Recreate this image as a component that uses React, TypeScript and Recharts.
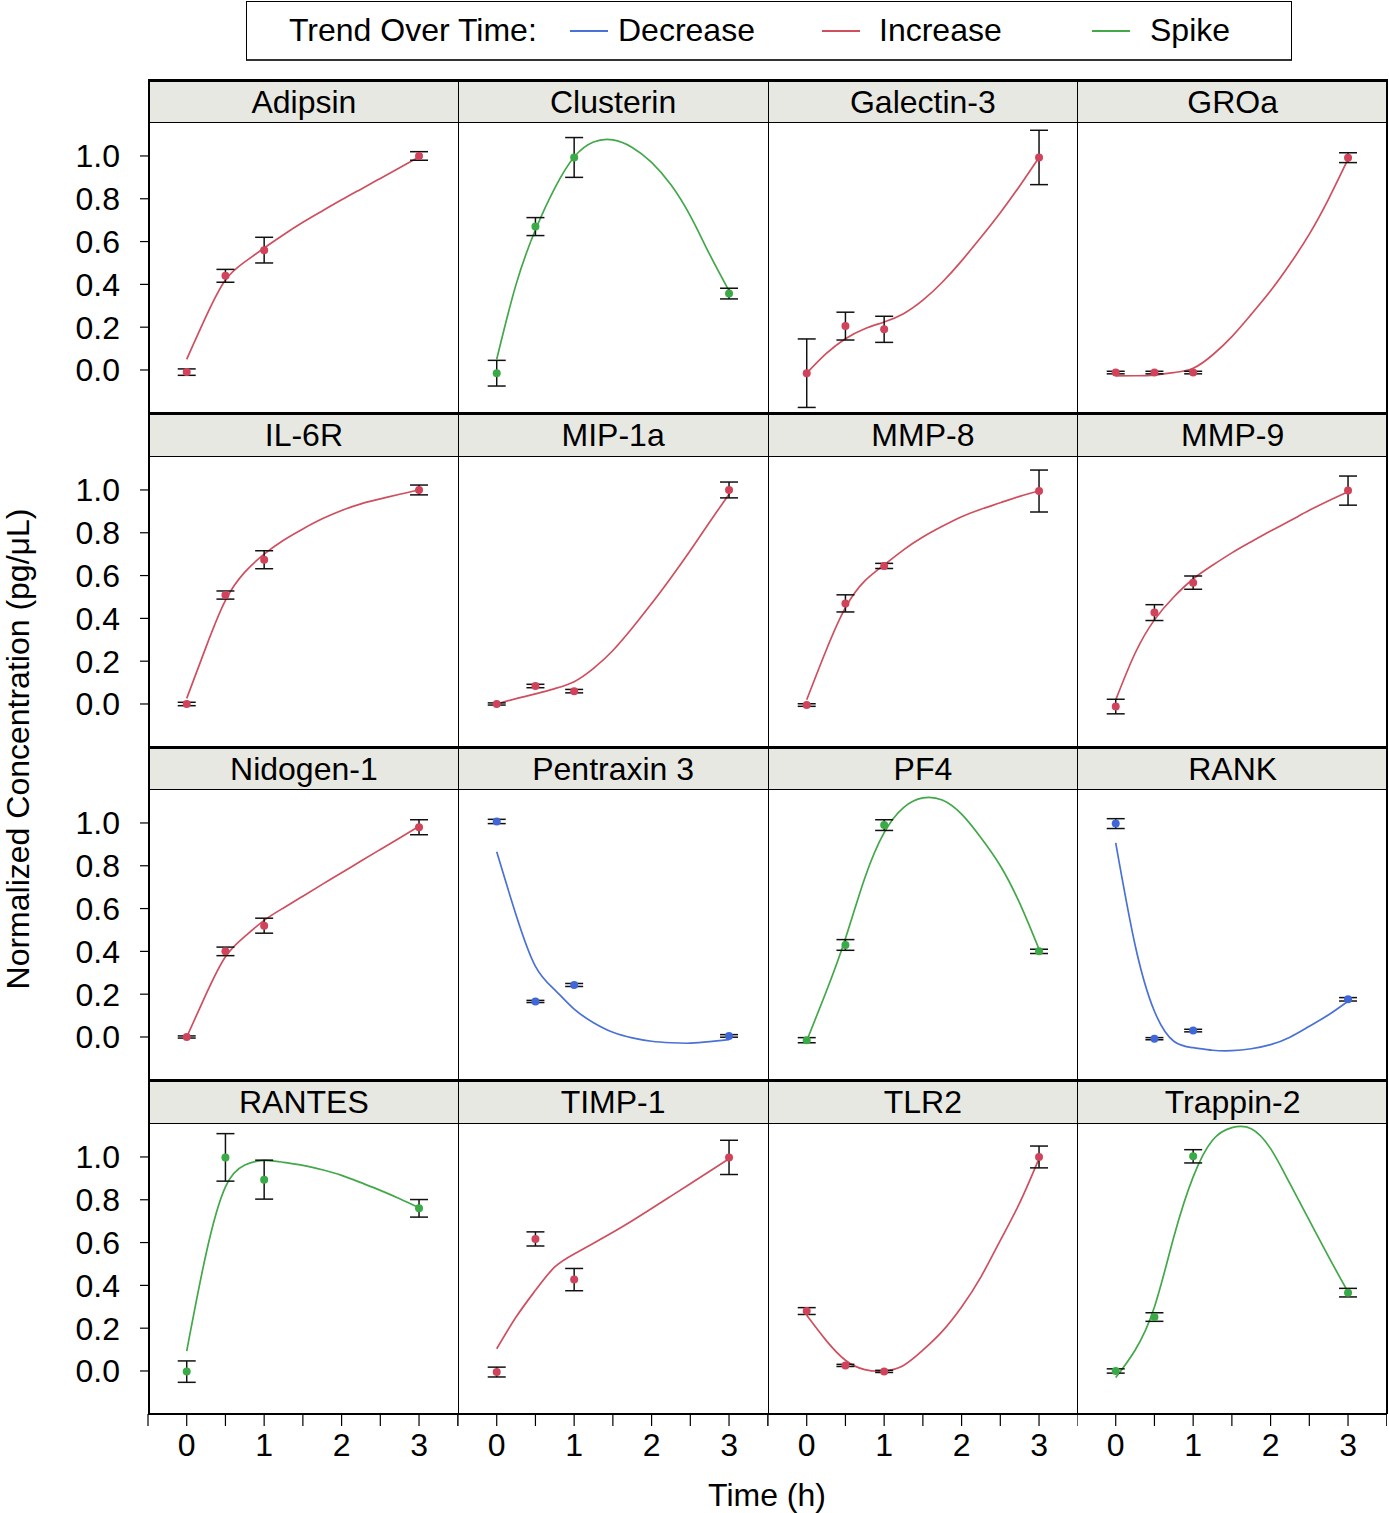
import React from 'react';
import { ComposedChart, Line, Scatter, ErrorBar, XAxis, YAxis } from 'recharts';

// ---------- data ----------
const proteins = [
  'Adipsin', 'Clusterin', 'Galectin-3', 'GROa',
  'IL-6R', 'MIP-1a', 'MMP-8', 'MMP-9',
  'Nidogen-1', 'Pentraxin 3', 'PF4', 'RANK',
  'RANTES', 'TIMP-1', 'TLR2', 'Trappin-2',
];

const trends = [
  'Increase', 'Spike', 'Increase', 'Increase',
  'Increase', 'Increase', 'Increase', 'Increase',
  'Increase', 'Decrease', 'Spike', 'Decrease',
  'Spike', 'Increase', 'Increase', 'Spike',
];

const timePoints = [0, 0.5, 1, 3];

const meanValues = [
  [-0.01, 0.44, 0.56, 1.0],
  [-0.015, 0.67, 0.993, 0.357],
  [-0.015, 0.205, 0.19, 0.993],
  [-0.012, -0.012, -0.012, 0.992],
  [0.0, 0.509, 0.674, 1.0],
  [0.0, 0.084, 0.06, 1.0],
  [-0.005, 0.47, 0.645, 0.995],
  [-0.012, 0.427, 0.567, 0.997],
  [0.0, 0.4, 0.52, 0.98],
  [1.007, 0.166, 0.243, 0.005],
  [-0.015, 0.43, 0.99, 0.4],
  [0.997, -0.008, 0.03, 0.176],
  [-0.003, 0.998, 0.894, 0.76],
  [-0.005, 0.617, 0.427, 0.998],
  [0.28, 0.026, -0.002, 1.0],
  [0.0, 0.252, 1.003, 0.366],
];

const errorValues = [
  [0.015, 0.03, 0.06, 0.02],
  [0.06, 0.042, 0.093, 0.025],
  [0.16, 0.065, 0.061, 0.127],
  [0.006, 0.006, 0.006, 0.023],
  [0.008, 0.019, 0.042, 0.023],
  [0.005, 0.008, 0.008, 0.037],
  [0.006, 0.04, 0.012, 0.098],
  [0.034, 0.037, 0.031, 0.068],
  [0.005, 0.02, 0.035, 0.035],
  [0.01, 0.005, 0.007, 0.006],
  [0.012, 0.025, 0.025, 0.01],
  [0.023, 0.005, 0.006, 0.008],
  [0.05, 0.111, 0.091, 0.041],
  [0.023, 0.033, 0.052, 0.08],
  [0.016, 0.005, 0.005, 0.051],
  [0.01, 0.02, 0.031, 0.02],
];

const fitTimes = [0, 0.25, 0.5, 0.75, 1, 1.25, 1.5, 1.75, 2, 2.25, 2.5, 2.75, 3];

const fitValues = [
  [0.05, 0.25, 0.42, 0.505, 0.57, 0.632, 0.69, 0.743, 0.795, 0.845, 0.895, 0.945, 0.995],
  [0.05, 0.4, 0.655, 0.85, 0.995, 1.065, 1.075, 1.04, 0.97, 0.865, 0.72, 0.54, 0.37],
  [-0.015, 0.076, 0.146, 0.193, 0.224, 0.263, 0.326, 0.41, 0.51, 0.62, 0.735, 0.86, 0.993],
  [-0.028, -0.027, -0.024, -0.012, 0.008, 0.07, 0.156, 0.26, 0.37, 0.495, 0.635, 0.8, 0.985],
  [0.026, 0.267, 0.484, 0.616, 0.7, 0.765, 0.818, 0.865, 0.904, 0.935, 0.958, 0.98, 1.0],
  [0.0, 0.025, 0.047, 0.072, 0.104, 0.166, 0.25, 0.355, 0.469, 0.59, 0.717, 0.85, 0.98],
  [0.02, 0.25, 0.45, 0.575, 0.65, 0.72, 0.78, 0.83, 0.875, 0.91, 0.94, 0.97, 0.995],
  [0.019, 0.237, 0.393, 0.5, 0.584, 0.648, 0.706, 0.758, 0.808, 0.856, 0.905, 0.95, 0.992],
  [0.0, 0.2, 0.375, 0.47, 0.545, 0.603, 0.658, 0.713, 0.767, 0.822, 0.876, 0.93, 0.985],
  [0.865, 0.57, 0.33, 0.22, 0.13, 0.067, 0.022, -0.004, -0.02, -0.027, -0.029, -0.022, -0.012],
  [-0.018, 0.21, 0.46, 0.743, 0.955, 1.072, 1.117, 1.107, 1.041, 0.931, 0.8, 0.625, 0.41],
  [0.907, 0.43, 0.12, -0.02, -0.05, -0.062, -0.064, -0.055, -0.036, -0.001, 0.05, 0.104, 0.167],
  [0.093, 0.548, 0.86, 0.962, 0.984, 0.975, 0.961, 0.94, 0.914, 0.88, 0.844, 0.805, 0.763],
  [0.104, 0.252, 0.377, 0.486, 0.547, 0.597, 0.648, 0.702, 0.759, 0.817, 0.875, 0.933, 0.992],
  [0.26, 0.143, 0.05, 0.006, 0.0, 0.026, 0.097, 0.185, 0.299, 0.44, 0.61, 0.785, 0.992],
  [-0.031, 0.097, 0.299, 0.626, 0.907, 1.078, 1.137, 1.132, 1.039, 0.875, 0.704, 0.533, 0.369],
];

const trendNames = ['Decrease', 'Increase', 'Spike'];
const lineColors: Record<string, string> = { Decrease: '#4a72d6', Increase: '#cf4f5e', Spike: '#42a84a' };
const dotColors: Record<string, string> = { Decrease: '#3f67d8', Increase: '#d0435a', Spike: '#3aaa46' };

const xTicks = [-0.5, 0, 0.5, 1, 1.5, 2, 2.5, 3, 3.5];
const yTicks = [0, 0.2, 0.4, 0.6, 0.8, 1.0];

// ---------- layout ----------
const FONT = '"Liberation Sans", Arial, Helvetica, sans-serif';
const GRID_LEFT = 148;
const GRID_RIGHT = 1387;
const PANEL_W = (GRID_RIGHT - GRID_LEFT) / 4;
const ROW_TOP0 = 80;
const ROW_PITCH = 333.5;
const HEADER_H = 43;
const PLOT_H = 290;
const X_AXIS_H = 70;
const Y_DOMAIN: [number, number] = [-0.201, 1.154];
const X_DOMAIN: [number, number] = [-0.5, 3.5];

const Dot = (props: any) => {
  const { cx, cy, fill } = props;
  if (cx == null || cy == null) return null;
  return <circle cx={cx} cy={cy} r={4} fill={fill} />;
};

function Panel({ idx }: { idx: number }) {
  const row = Math.floor(idx / 4);
  const col = idx % 4;
  const trend = trends[idx];
  const pts = timePoints.map((t, i) => ({ t, y: meanValues[idx][i], err: errorValues[idx][i] }));
  const fit = fitTimes.map((t, i) => ({ t, v: fitValues[idx][i] }));
  const showY = col === 0;
  const showX = row === 3;
  const width = showY ? GRID_LEFT + PANEL_W : PANEL_W;
  const height = PLOT_H + (showX ? X_AXIS_H : 0);
  const left = showY ? 0 : GRID_LEFT + col * PANEL_W;
  const top = ROW_TOP0 + row * ROW_PITCH + HEADER_H;
  return (
    <div style={{ position: 'absolute', left, top, width, height }}>
      <ComposedChart width={width} height={height} margin={{ top: 0, right: 0, bottom: 0, left: 0 }}>
        <XAxis
          type="number"
          dataKey="t"
          domain={X_DOMAIN}
          ticks={xTicks}
          interval={0}
          allowDataOverflow
          hide={!showX}
          height={X_AXIS_H}
          axisLine={false}
          tickSize={12}
          tickMargin={7}
          tickLine={{ stroke: '#000', strokeWidth: 1.2 }}
          tick={{ fill: '#000', fontSize: 32, fontFamily: FONT }}
          tickFormatter={(v: number) => (Number.isInteger(v) && v >= 0 && v <= 3 ? String(v) : '')}
        />
        <YAxis
          type="number"
          domain={Y_DOMAIN}
          ticks={yTicks}
          interval={0}
          allowDataOverflow
          hide={!showY}
          width={GRID_LEFT}
          axisLine={false}
          tickSize={8}
          tickMargin={20}
          tickLine={{ stroke: '#000', strokeWidth: 1.2 }}
          tick={{ fill: '#000', fontSize: 32, fontFamily: FONT }}
          tickFormatter={(v: number) => v.toFixed(1)}
        />
        <Line
          data={fit}
          dataKey="v"
          type="natural"
          stroke={lineColors[trend]}
          strokeWidth={1.7}
          dot={false}
          activeDot={false}
          isAnimationActive={false}
        />
        <Scatter data={pts} dataKey="y" fill={dotColors[trend]} shape={<Dot />} isAnimationActive={false}>
          <ErrorBar dataKey="err" direction="y" width={9} stroke="#111" strokeWidth={1.5} />
        </Scatter>
      </ComposedChart>
    </div>
  );
}

function Frames() {
  const els: React.ReactNode[] = [];
  for (let r = 0; r < 4; r++) {
    const rowTop = ROW_TOP0 + r * ROW_PITCH;
    for (let c = 0; c < 4; c++) {
      const idx = r * 4 + c;
      const left = GRID_LEFT + c * PANEL_W;
      els.push(
        <div
          key={`h${idx}`}
          style={{
            position: 'absolute', left, top: rowTop - 1.5, width: PANEL_W, height: HEADER_H + 1.5,
            boxSizing: 'border-box', background: '#e8e8e2',
            borderTop: '3px solid #000', borderBottom: '1px solid #000', borderLeft: c === 0 ? '2px solid #000' : '1px solid #000',
            fontFamily: FONT, fontSize: 32, color: '#000', textAlign: 'center', lineHeight: `${HEADER_H - 2}px`,
            whiteSpace: 'nowrap',
          }}
        >
          {proteins[idx]}
        </div>,
      );
      els.push(
        <div
          key={`p${idx}`}
          style={{
            position: 'absolute', left, top: rowTop + HEADER_H, width: PANEL_W, height: PLOT_H,
            boxSizing: 'border-box', borderLeft: c === 0 ? '2px solid #000' : '1px solid #000', pointerEvents: 'none',
          }}
        />,
      );
    }
  }
  const bottom = ROW_TOP0 + 3 * ROW_PITCH + HEADER_H + PLOT_H;
  els.push(
    <div key="right" style={{ position: 'absolute', left: GRID_RIGHT - 1.5, top: ROW_TOP0 - 1.5, width: 2, height: bottom - ROW_TOP0 + 2, background: '#000' }} />,
  );
  els.push(
    <div key="bottom" style={{ position: 'absolute', left: GRID_LEFT, top: bottom - 1, width: GRID_RIGHT - GRID_LEFT, height: 2, background: '#000' }} />,
  );
  return <>{els}</>;
}

function LegendBox() {
  const base: React.CSSProperties = {
    position: 'absolute', top: 0, height: 57, lineHeight: '57px', fontFamily: FONT, fontSize: 32, color: '#000', whiteSpace: 'nowrap',
  };
  const lineLeft = [323, 575, 845];
  const textLeft = [371, 632, 903];
  return (
    <div style={{ position: 'absolute', left: 246, top: 1, width: 1046, height: 60, boxSizing: 'border-box', border: '1px solid #000', borderBottom: '2px solid #333', background: '#fff' }}>
      <div style={{ ...base, left: 42 }}>Trend Over Time:</div>
      {trendNames.map((n, i) => (
        <React.Fragment key={n}>
          <div style={{ position: 'absolute', left: lineLeft[i], top: 28, width: 38, height: 0, borderTop: `2px solid ${lineColors[n]}` }} />
          <div style={{ ...base, left: textLeft[i] }}>{n}</div>
        </React.Fragment>
      ))}
    </div>
  );
}

export default function App() {
  return (
    <div style={{ position: 'absolute', left: 0, top: 0, width: 1389, height: 1513, background: '#fff', overflow: 'hidden' }}>
      {proteins.map((_, i) => (
        <Panel key={i} idx={i} />
      ))}
      <Frames />
      <LegendBox />
      <div
        style={{
          position: 'absolute', left: 18, top: 749, transform: 'translate(-50%, -50%) rotate(-90deg)',
          fontFamily: FONT, fontSize: 32, lineHeight: '35px', color: '#000', whiteSpace: 'nowrap',
        }}
      >
        Normalized Concentration (pg/μL)
      </div>
      <div
        style={{
          position: 'absolute', left: 767, top: 1495, transform: 'translate(-50%, -50%)',
          fontFamily: FONT, fontSize: 32, color: '#000', whiteSpace: 'nowrap',
        }}
      >
        Time (h)
      </div>
    </div>
  );
}
